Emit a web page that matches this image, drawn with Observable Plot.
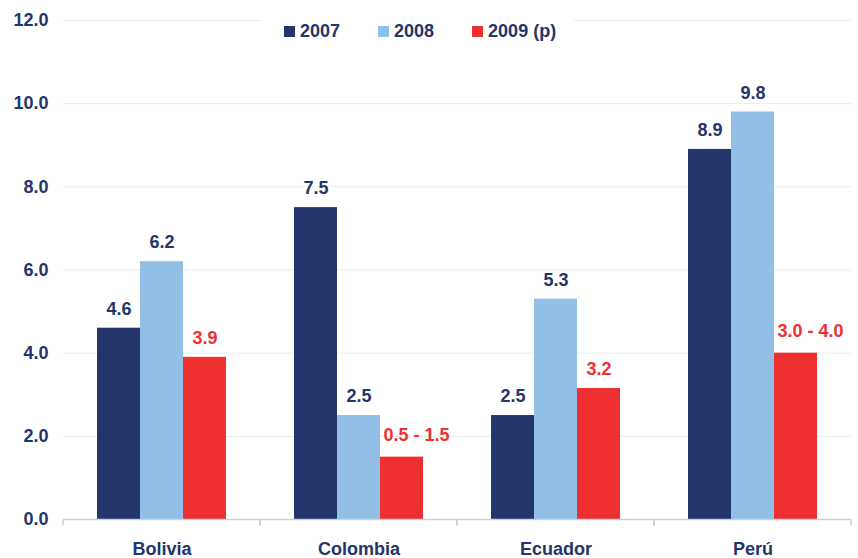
<!DOCTYPE html>
<html>
<head>
<meta charset="utf-8">
<script src="https://cdn.jsdelivr.net/npm/d3@7"></script>
<script src="https://cdn.jsdelivr.net/npm/@observablehq/plot@0.6"></script>
<style>
  html, body { margin: 0; padding: 0; background: #fff; }
  #wrap { position: relative; width: 858px; height: 558px; font-family: "Liberation Sans", Arial, sans-serif; }
  #legend { position: absolute; left: 262px; top: 18px; padding: 2px 18px 2px 22px; background: #fff;
            display: flex; align-items: center; font-weight: bold; font-size: 18px; line-height: 22px; color: #23356a; }
  #legend .item { display: flex; align-items: center; margin-right: 38px; }
  #legend .item:last-child { margin-right: 0; }
  #legend .sw { width: 11px; height: 11px; margin-right: 5px; }
</style>
</head>
<body>
<div id="wrap"></div>
<script>
const countries = ["Bolivia", "Colombia", "Ecuador", "Perú"];
const years = ["2007", "2008", "2009 (p)"];
const values2007 = [4.6, 7.5, 2.5, 8.9];
const values2008 = [6.2, 2.5, 5.3, 9.8];
const values2009 = [3.9, 1.5, 3.15, 4.0];
const labels2007 = ["4.6", "7.5", "2.5", "8.9"];
const labels2008 = ["6.2", "2.5", "5.3", "9.8"];
const labels2009 = ["3.9", "0.5 - 1.5", "3.2", "3.0 - 4.0"];
const yTicks = [0, 2, 4, 6, 8, 10, 12];
const colors = ["#23356a", "#92bfe6", "#ee3130"];

const navy = "#23356a";
const red = "#ee3130";
const axisColor = "#c5d1de";
const gridColor = "#e9ecee";

const seriesValues = [values2007, values2008, values2009];
const seriesLabels = [labels2007, labels2008, labels2009];
const data = [];
countries.forEach((c, i) => {
  years.forEach((yr, j) => {
    data.push({country: c, year: yr, value: seriesValues[j][i], label: seriesLabels[j][i]});
  });
});
const isRange = d => d.label.includes(" - ");

const font = {fontSize: 18, fontWeight: "bold", fontFamily: "Liberation Sans, Arial, sans-serif"};

const chart = Plot.plot({
  width: 858,
  height: 558,
  marginLeft: 62,
  marginRight: 7,
  marginTop: 20,
  marginBottom: 39,
  style: {fontFamily: "Liberation Sans, Arial, sans-serif", background: "#fff"},
  fx: {domain: countries, padding: 0, label: null, axis: null},
  x: {domain: years, paddingInner: 0, paddingOuter: 0.75, axis: null},
  y: {domain: [0, 12], label: null},
  color: {domain: years, range: colors},
  marks: [
    Plot.gridY(yTicks, {stroke: gridColor, strokeOpacity: 1, strokeWidth: 1}),
    Plot.axisY(yTicks, {tickSize: 0, tickPadding: 15, tickFormat: d => d.toFixed(1), fill: navy, ...font, label: null}),
    Plot.axisFx({anchor: "bottom", tickSize: 0, tickPadding: 23, fill: navy, ...font, label: null}),
    Plot.barY(data, {fx: "country", x: "year", y: "value", fill: "year"}),
    Plot.ruleY([0], {
      stroke: axisColor, strokeWidth: 1.5,
      render(index, scales, values, dimensions, context, next) {
        const g = next(index, scales, values, dimensions, context);
        const xr = scales.x && scales.x.range ? scales.x.range() : [dimensions.marginLeft, dimensions.width - dimensions.marginRight];
        const y0 = scales.y(0);
        const sel = d3.select(g);
        xr.forEach(x => {
          sel.append("line").attr("x1", x).attr("x2", x).attr("y1", y0).attr("y2", y0 + 6)
            .attr("stroke", axisColor).attr("stroke-width", 1.5);
        });
        return g;
      }
    }),
    Plot.text(data.filter(d => d.year !== "2009 (p)"), {fx: "country", x: "year", y: "value", text: "label", fill: navy, dy: -19, lineAnchor: "middle", ...font}),
    Plot.text(data.filter(d => d.year === "2009 (p)" && !isRange(d)), {fx: "country", x: "year", y: "value", text: "label", fill: red, dy: -19, lineAnchor: "middle", ...font}),
    Plot.text(data.filter(d => d.year === "2009 (p)" && isRange(d)), {fx: "country", x: "year", y: "value", text: "label", fill: red, dy: -22, dx: -18.5, textAnchor: "start", lineAnchor: "middle", ...font})
  ]
});

const wrap = document.getElementById("wrap");
wrap.appendChild(chart);

const legend = document.createElement("div");
legend.id = "legend";
years.forEach((yr, i) => {
  const item = document.createElement("div");
  item.className = "item";
  const sw = document.createElement("span");
  sw.className = "sw";
  sw.style.background = colors[i];
  const t = document.createElement("span");
  t.textContent = yr;
  item.appendChild(sw);
  item.appendChild(t);
  legend.appendChild(item);
});
wrap.appendChild(legend);
</script>
</body>
</html>
